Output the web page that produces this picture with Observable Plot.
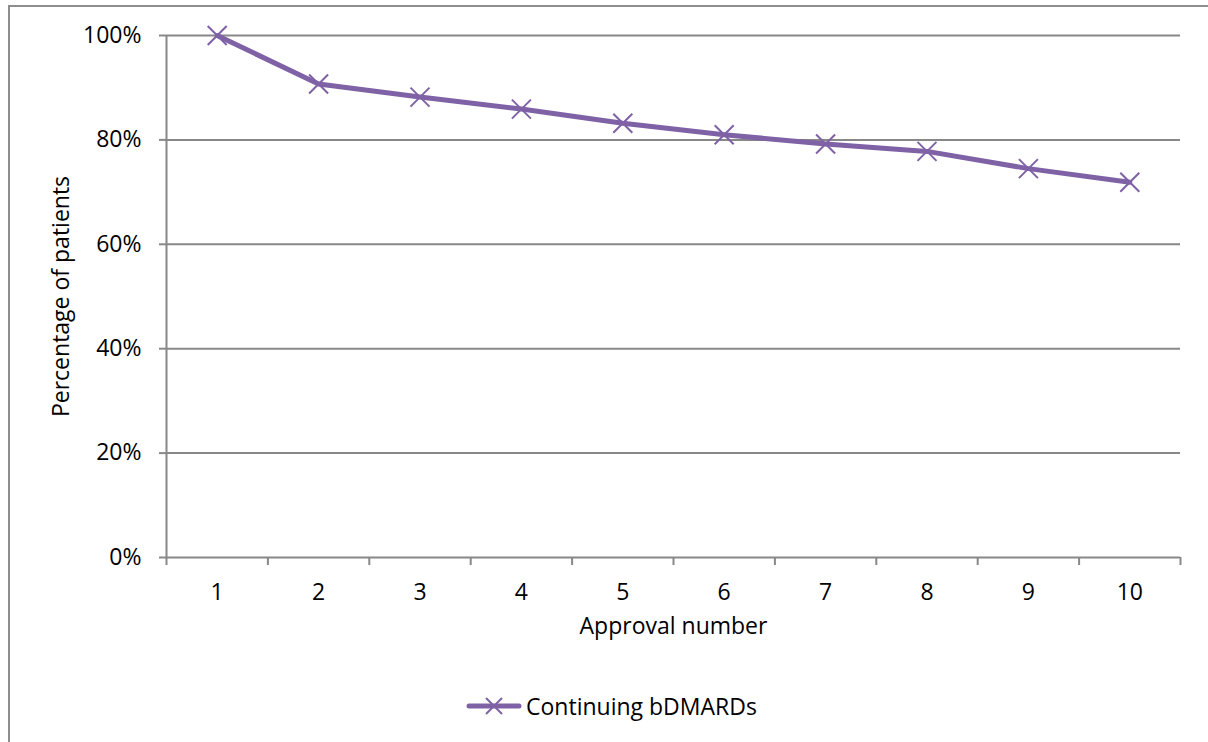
<!DOCTYPE html>
<html>
<head>
<meta charset="utf-8">
<script src="https://cdn.jsdelivr.net/npm/d3@7"></script>
<script src="https://cdn.jsdelivr.net/npm/@observablehq/plot@0.6"></script>
<style>
  html, body { margin: 0; padding: 0; background: #fff; overflow: hidden; }
  #wrap { position: relative; width: 1208px; height: 742px; font-family: "Open Sans", sans-serif; }
  #border { position: absolute; left: 8px; top: 5px; width: 1400px; height: 900px;
            border-left: 2px solid #8e8e8e; border-top: 2px solid #8e8e8e; pointer-events: none; }
  #legend { position: absolute; left: 466px; top: 688px; height: 36px; display: flex; align-items: center;
            font-size: 23px; color: #000; }
  #legend svg { margin-right: 4px; }
</style>
</head>
<body>
<div id="wrap">
  <div id="chart"></div>
  <div id="legend"></div>
  <div id="border"></div>
</div>
<script>
// Data
const approvals = [1, 2, 3, 4, 5, 6, 7, 8, 9, 10];
const continuing = [1.000, 0.907, 0.882, 0.859, 0.832, 0.810, 0.792, 0.778, 0.745, 0.719];
const yTicks = [0, 0.2, 0.4, 0.6, 0.8, 1.0];
const seriesName = "Continuing bDMARDs";
const xLabel = "Approval number";
const yLabel = "Percentage of patients";

const data = approvals.map((a, i) => ({approval: a, value: continuing[i]}));
// category boundaries (for tick marks between categories)
const boundaries = approvals.map(a => a - 0.5).concat([approvals[approvals.length - 1] + 0.5]);

const purple = "#7f62a6";
const gray = "#888888";
const timesSymbol = {
  draw(ctx, size) {
    const s = Math.sqrt(size / Math.PI);
    ctx.moveTo(-s, -s); ctx.lineTo(s, s);
    ctx.moveTo(s, -s); ctx.lineTo(-s, s);
  }
};

const chart = Plot.plot({
  width: 1208,
  height: 680,
  marginLeft: 166,
  marginRight: 28,
  marginTop: 35,
  marginBottom: 123,
  style: {fontFamily: "Open Sans, sans-serif", fontSize: "23px", color: "#000", background: "transparent", overflow: "visible"},
  x: {domain: [boundaries[0], boundaries[boundaries.length - 1]], label: null},
  y: {domain: [0, 1], label: null},
  marks: [
    Plot.ruleY(yTicks, {stroke: gray, strokeWidth: 2}),
    Plot.axisY({ticks: yTicks, tickFormat: d3.format(".0%"), tickSize: 7, tickPadding: 18, stroke: gray, strokeWidth: 2, strokeOpacity: 1, label: null}),
    Plot.ruleX([boundaries[0]], {stroke: gray, strokeWidth: 2}),
    Plot.axisX({ticks: boundaries, tickSize: 8, tickFormat: () => "", stroke: gray, strokeWidth: 2, strokeOpacity: 1, label: null}),
    Plot.axisX({ticks: approvals, tickSize: 0, tickPadding: 26, tickFormat: d => String(d), label: null}),
    Plot.line(data, {x: "approval", y: "value", stroke: purple, strokeWidth: 5, strokeLinejoin: "round", strokeLinecap: "round"}),
    Plot.dot(data, {x: "approval", y: "value", symbol: timesSymbol, r: 9.5, stroke: purple, strokeWidth: 2, fill: "none"}),
    Plot.text([xLabel], {frameAnchor: "bottom", dy: 76, fontSize: 23, fill: "#000"}),
    Plot.text([yLabel], {frameAnchor: "left", textAnchor: "middle", rotate: -90, dx: -105, fontSize: 23, fill: "#000"})
  ]
});
document.getElementById("chart").appendChild(chart);

// Legend
const sw = d3.create("svg").attr("width", 56).attr("height", 24);
sw.append("line").attr("x1", 3).attr("x2", 53).attr("y1", 12).attr("y2", 12)
  .attr("stroke", purple).attr("stroke-width", 5).attr("stroke-linecap", "round");
sw.append("path").attr("d", "M20,4L36,20M36,4L20,20").attr("stroke", purple).attr("stroke-width", 2).attr("fill", "none");
const legend = document.getElementById("legend");
legend.appendChild(sw.node());
const lt = document.createElement("span");
lt.textContent = seriesName;
legend.appendChild(lt);
</script>
</body>
</html>
